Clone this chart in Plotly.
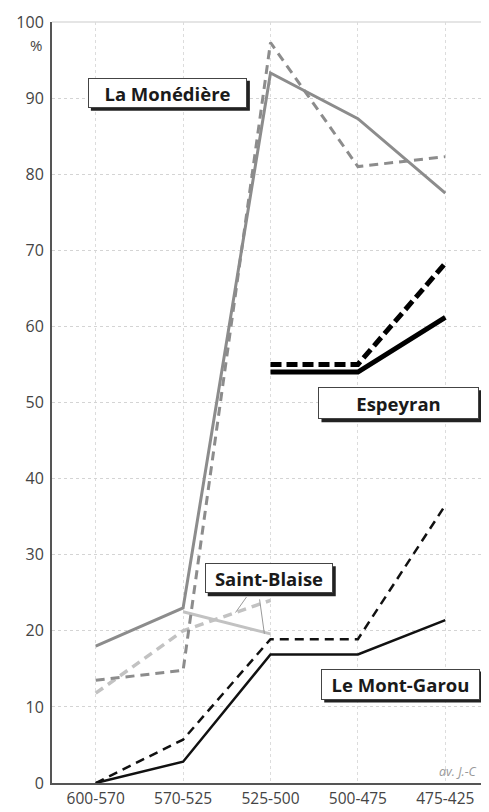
import plotly.graph_objects as go

periods = ["600-570", "570-525", "525-500", "500-475", "475-425"]

monediere_solid = [18, 23, 93.3, 87.3, 77.5]
monediere_dash = [13.5, 14.8, 97.3, 81, 82.3]
saintblaise_solid = [None, 22.5, 19.6, None, None]
saintblaise_dash = [11.8, 20, 24, None, None]
espeyran_solid = [None, None, 54, 54, 61.2]
espeyran_dash = [None, None, 55, 55, 68.3]
montgarou_solid = [0, 2.8, 16.9, 16.9, 21.4]
montgarou_dash = [0, 5.7, 18.9, 18.9, 36.5]

y_ticks = [0, 10, 20, 30, 40, 50, 60, 70, 80, 90, 100]

FONT = "Open Sans"

fig = go.Figure()

def add(vals, color, width, dash):
    fig.add_trace(go.Scatter(
        x=periods, y=vals, mode="lines",
        line=dict(color=color, width=width, dash=dash),
        connectgaps=False, hoverinfo="skip", showlegend=False))

add(saintblaise_dash, "#c2c2c2", 3.5, "9px,6px")
add(saintblaise_solid, "#c2c2c2", 3, "solid")
add(monediere_dash, "#8c8c8c", 3, "9px,6px")
add(monediere_solid, "#8c8c8c", 3, "solid")
add(montgarou_dash, "#111111", 2.5, "9px,6px")
add(montgarou_solid, "#111111", 2.5, "solid")
add(espeyran_dash, "#000000", 5, "11px,5px")
add(espeyran_solid, "#000000", 5, "solid")

def label(text, x, y, w, h):
    W = w + 4
    H = h + 4
    fig.add_shape(type="rect", xref="x", yref="y", xsizemode="pixel", ysizemode="pixel",
                  xanchor=x, yanchor=y, x0=-W / 2 + 3, x1=W / 2 + 3, y0=-H / 2 - 3, y1=H / 2 - 3,
                  fillcolor="#222", line=dict(width=0), layer="above")
    fig.add_annotation(x=x, y=y, xref="x", yref="y", text="<b>" + text + "</b>", showarrow=False,
                       width=w, height=h,
                       font=dict(family=FONT, size=18.5, color="#1a1a1a"),
                       bgcolor="white", bordercolor="#444", borderwidth=1)

label("La Monédière", 0.82, 90.7, 155, 26)
label("Espeyran", 3.47, 49.9, 157, 28)
label("Saint-Blaise", 1.98, 26.9, 124, 26)
label("Le Mont-Garou", 3.49, 13.0, 155, 27)

# Saint-Blaise leader lines
fig.add_annotation(x=1.6, y=22.4, xref="x", yref="y", text="", showarrow=True,
                   arrowhead=0, arrowwidth=1, arrowcolor="#999", ax=12, ay=-17)
fig.add_annotation(x=1.93, y=19.6, xref="x", yref="y", text="", showarrow=True,
                   arrowhead=0, arrowwidth=1, arrowcolor="#999", ax=-5, ay=-36)

fig.add_annotation(x=0, y=1, xref="paper", yref="paper", text="%", showarrow=False,
                   xanchor="right", yanchor="top", xshift=-8, yshift=-11,
                   font=dict(family=FONT, size=15, color="#444"))
fig.add_annotation(x=1, y=0, xref="paper", yref="paper", text="<i>av. J.-C</i>", showarrow=False,
                   xanchor="right", yanchor="bottom", xshift=-10, yshift=1,
                   font=dict(family=FONT, size=12.5, color="#999"))

fig.add_shape(type="line", xref="paper", yref="paper", x0=0, x1=1, y0=1, y1=1,
              line=dict(color="#dddddd", width=1.5))

fig.update_layout(
    width=481, height=804,
    margin=dict(l=44, r=0, t=14, b=29),
    paper_bgcolor="white", plot_bgcolor="white",
    font=dict(family=FONT, color="#444"),
    xaxis=dict(type="category", range=[-0.5, 4.5], showgrid=True, gridcolor="#dcdcdc",
               griddash="dot", gridwidth=1, showline=True, linecolor="#555", linewidth=2,
               ticks="", tickfont=dict(family=FONT, size=15.5, color="#444"), zeroline=False),
    yaxis=dict(range=[0, 100], tickvals=y_ticks, showgrid=True, gridcolor="#d4d4d4",
               griddash="dot", gridwidth=1, showline=True, linecolor="#555", linewidth=2,
               ticks="", tickfont=dict(family=FONT, size=16, color="#444"), zeroline=False,
               ticklabelstandoff=3),
)

fig.write_html("out.html")
